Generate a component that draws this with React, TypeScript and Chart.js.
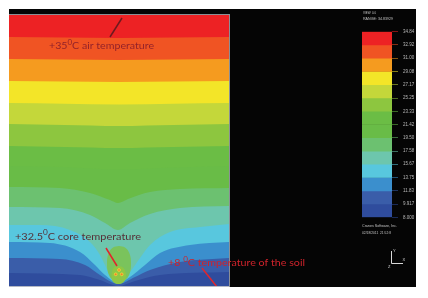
import React, { useEffect, useRef } from "react";
import { Chart, registerables } from "chart.js";
Chart.register(...registerables);

// Contour levels (°C) shown in the colour bar, top to bottom
const levels = [34.84, 32.92, 31.0, 29.08, 27.17, 25.25, 23.33, 21.42, 19.5, 17.58, 15.67, 13.75, 11.83, 9.917, 8.0];
const tickLabels = ["34.84", "32.92", "31.00", "29.08", "27.17", "25.25", "23.33", "21.42", "19.50", "17.58", "15.67", "13.75", "11.83", "9.917", "8.000"];
const bandColors = [
  "#ED2224", "#F05423", "#F59B1F", "#F3E528", "#C4D73A", "#8DC63F", "#6BBD45",
  "#69BC47", "#6CC170", "#6DC6AD", "#58C7DE", "#3B8FCD", "#3A5DA9", "#2F4C9D",
];

// Isolines: [x (cm, 0 = heat source axis), elevation above model bottom (cm)]
const iso3484 = [[-110, 273], [110, 273]];
const iso3292 = [[-110, 250], [-55, 249.5], [0, 249], [55, 249.5], [110, 250]];
const iso3100 = [[-110, 228], [-55, 227.5], [0, 227], [55, 227.5], [110, 228]];
const iso2908 = [[-110, 206], [-55, 205.5], [0, 205], [55, 205.5], [110, 206]];
const iso2717 = [[-110, 184], [-55, 183.3], [0, 182.5], [55, 183.3], [110, 184]];
const iso2525 = [[-110, 163], [-55, 162], [0, 161], [55, 162], [110, 163]];
const iso2333 = [[-110, 141], [-55, 140], [0, 139], [55, 140], [110, 141]];
const iso2142 = [[-110, 121], [-55, 120], [0, 117.5], [55, 119.5], [110, 121]];
const iso1950 = [[-110, 100], [-59, 99], [-29, 94], [-9, 87], [-1, 84], [9, 88], [31, 95], [61, 98], [110, 99]];
const iso1758 = [[-110, 80], [-59, 79], [-29, 72], [-14, 64], [-1, 57], [11, 64], [31, 73], [61, 79], [110, 81]];
const iso1567 = [[-110, 62], [-79, 62], [-49, 57], [-29, 45], [-19, 32], [-14, 22], [-9, 12], [-1, 5], [11, 15], [21, 29], [31, 42], [51, 55], [81, 60], [110, 63]];
const iso1375 = [[-110, 45], [-69, 44], [-39, 35], [-24, 22], [-14, 12], [-1, 4], [11, 10], [26, 22], [41, 34], [71, 42], [110, 45]];
const iso1183 = [[-110, 29], [-59, 28], [-34, 22], [-19, 12], [-1, 3], [16, 10], [31, 17], [61, 25], [110, 29]];
const iso992 = [[-110, 14], [-39, 12], [-19, 7], [-1, 1], [16, 6], [41, 12], [110, 15]];

// Warm core around the heat source
const coreOuter = [[0, 41], [6, 39.5], [10.5, 33.5], [12, 23.5], [10.5, 13], [6, 7], [0, 5.5], [-6, 7], [-10.5, 13], [-12, 23.5], [-10.5, 33.5], [-6, 39.5], [0, 41]];
const coreInner = [[-0.5, 21], [4, 19.5], [6.5, 15], [7, 11], [5.5, 6], [2.5, 3.5], [-0.5, 3], [-3.5, 3.5], [-6.5, 6], [-7.5, 11], [-7, 15], [-5, 19.5], [-0.5, 21]];
const coreNodes = [[0, 17], [-3.3, 12.7], [2.7, 12.7]];

// Callout leader lines
const leaderAir = [[-9, 250], [3, 269]];
const leaderCore = [[-13, 39], [-2, 21]];
const leaderSoil = [[83, 19], [98, 0]];

const isolines = [iso3484, iso3292, iso3100, iso2908, iso2717, iso2525, iso2333, iso2142, iso1950, iso1758, iso1567, iso1375, iso1183, iso992];

const toXY = (pts: number[][]) => pts.map(([x, y]) => ({ x, y }));

function darken(hex: string, f: number) {
  const n = parseInt(hex.slice(1), 16);
  const r = Math.round(((n >> 16) & 255) * f);
  const g = Math.round(((n >> 8) & 255) * f);
  const b = Math.round((n & 255) * f);
  return `rgb(${r},${g},${b})`;
}

function drawRich(ctx: CanvasRenderingContext2D, parts: [string, boolean][], x: number, y: number, size: number, color: string, targetWidth: number) {
  ctx.save();
  ctx.fillStyle = color;
  ctx.textBaseline = "alphabetic";
  ctx.textAlign = "left";
  const normal = `${size}px Lato`;
  const sup = `${size * 0.75}px Lato`;
  let w = 0;
  for (const [t, s] of parts) {
    ctx.font = s ? sup : normal;
    w += ctx.measureText(t).width;
  }
  ctx.translate(x, y);
  ctx.scale(targetWidth / w, 1);
  let cx = 0;
  for (const [t, s] of parts) {
    ctx.font = s ? sup : normal;
    ctx.fillText(t, cx, s ? -size * 0.42 : 0);
    cx += ctx.measureText(t).width;
  }
  ctx.restore();
}

const overlayPlugin = {
  id: "overlay",
  afterDatasetsDraw(chart: any) {
    const ctx: CanvasRenderingContext2D = chart.ctx;
    const a = chart.chartArea;
    ctx.save();
    // frame of the model
    ctx.strokeStyle = "#8c8f96";
    ctx.lineWidth = 1;
    ctx.beginPath();
    ctx.moveTo(a.left, a.top + 0.5);
    ctx.lineTo(a.right, a.top + 0.5);
    ctx.moveTo(a.right + 0.5, a.top);
    ctx.lineTo(a.right + 0.5, a.bottom);
    ctx.stroke();
    ctx.strokeStyle = "#b4b8c4";
    ctx.beginPath();
    ctx.moveTo(a.left, a.bottom - 0.5);
    ctx.lineTo(a.right, a.bottom - 0.5);
    ctx.stroke();

    // callout texts
    drawRich(ctx, [["+35", false], ["0", true], ["C air temperature", false]], a.left + 40, a.top + 35, 10, "#93222a", 105);
    drawRich(ctx, [["+32.5", false], ["0", true], ["C core temperature", false]], a.left + 6, a.top + 225.5, 10, "#553038", 126);
    drawRich(ctx, [["+8 ", false], ["0", true], ["C temperature of the soil", false]], a.left + 159, a.top + 252, 10, "#cf232b", 137);

    // header / footer of the colour bar panel
    ctx.fillStyle = "#c4c4c4";
    ctx.font = "4px 'Liberation Sans'";
    ctx.textBaseline = "alphabetic";
    ctx.fillText("VIEW: 0.0", 354, 4.8, 13);
    ctx.fillText("RANGE: 34.83929", 354, 11, 30);
    ctx.fillText("Cranes Software, Inc.", 353, 217.5, 35);
    ctx.fillText("02/18/2011  21:52:8", 353, 224.5, 29);

    // axis triad
    ctx.strokeStyle = "#d8d8d8";
    ctx.lineWidth = 1;
    ctx.beginPath();
    ctx.moveTo(382.5, 242);
    ctx.lineTo(382.5, 254.5);
    ctx.lineTo(394, 254.5);
    ctx.stroke();
    ctx.fillStyle = "#d8d8d8";
    ctx.font = "4px 'Liberation Sans'";
    ctx.fillText("Y", 384, 243);
    ctx.fillText("X", 393.5, 252);
    ctx.fillText("Z", 379, 258.5);
    ctx.restore();
  },
};

export default function App() {
  const mainRef = useRef<HTMLCanvasElement>(null);
  const legRef = useRef<HTMLCanvasElement>(null);

  useEffect(() => {
    const bandSets = isolines.map((pts, i) => ({
      data: toXY(pts),
      borderWidth: 0,
      pointRadius: 0,
      fill: "start",
      backgroundColor: bandColors[i],
      cubicInterpolationMode: "monotone",
      order: 100 - i,
    }));
    const main = new Chart(mainRef.current!, {
      type: "line",
      data: {
        datasets: [
          ...bandSets,
          { data: toXY(coreOuter), borderWidth: 0, pointRadius: 0, fill: "shape", backgroundColor: "#7AC35C", tension: 0.4, order: 6 },
          { data: toXY(coreInner), borderWidth: 0, pointRadius: 0, fill: "shape", backgroundColor: "#8EC744", tension: 0.4, order: 5 },
          { data: toXY(coreNodes), showLine: false, pointRadius: 1.4, pointBackgroundColor: "#F0802A", pointBorderColor: "#F2D83A", pointBorderWidth: 0.8, order: 2 },
          { data: toXY(leaderAir), borderColor: "#6e1a1e", borderWidth: 1.5, pointRadius: 0, fill: false, order: 1 },
          { data: toXY(leaderCore), borderColor: "#e4222a", borderWidth: 1.5, pointRadius: 0, fill: false, order: 1 },
          { data: toXY(leaderSoil), borderColor: "#e0262c", borderWidth: 1.5, pointRadius: 0, fill: false, order: 1 },
        ] as any,
      },
      options: {
        responsive: false,
        animation: false,
        devicePixelRatio: 1,
        events: [],
        layout: { autoPadding: false, padding: { left: 0, top: 5, right: 187, bottom: 0 } },
        scales: {
          x: { type: "linear", min: -110, max: 110, display: false },
          y: { type: "linear", min: 0, max: 273, display: false },
        },
        plugins: { legend: { display: false }, tooltip: { enabled: false } },
      } as any,
      plugins: [overlayPlugin],
    });

    const leg = new Chart(legRef.current!, {
      type: "bar",
      data: {
        labels: [""],
        datasets: bandColors.map((c, i) => ({
          data: [[levels[i + 1], levels[i]]],
          backgroundColor: c,
          borderWidth: 0,
          grouped: false,
          barPercentage: 1,
          categoryPercentage: 1,
        })) as any,
      },
      options: {
        responsive: false,
        animation: false,
        devicePixelRatio: 1,
        events: [],
        layout: { autoPadding: false, padding: { left: 0, top: 6.5, right: 0, bottom: 6.5 } },
        scales: {
          x: { display: false },
          y: {
            position: "right",
            min: 8,
            max: 34.84,
            afterBuildTicks: (scale: any) => {
              scale.ticks = [...levels].reverse().map((v) => ({ value: v }));
            },
            afterFit: (scale: any) => {
              scale.width = 26;
            },
            ticks: {
              autoSkip: false,
              padding: 5,
              color: "#b8b8b8",
              font: { family: "'Liberation Sans'", size: 4.5 },
              callback: (v: any) => tickLabels[levels.indexOf(v)],
            },
            grid: {
              drawOnChartArea: false,
              drawTicks: true,
              tickLength: 6,
              lineWidth: 1,
              color: (ctx: any) => {
                const j = levels.indexOf(ctx.tick ? ctx.tick.value : 8);
                return darken(bandColors[Math.min(Math.max(j, 0), bandColors.length - 1)], 0.55);
              },
            },
            border: { display: false },
          },
        },
        plugins: { legend: { display: false }, tooltip: { enabled: false } },
      } as any,
    });

    return () => {
      main.destroy();
      leg.destroy();
    };
  }, []);

  return (
    <div style={{ position: "relative", width: 420, height: 290 }}>
      <div style={{ position: "absolute", left: 1, top: 1, width: 407, height: 278, background: "#050505" }} />
      <canvas ref={mainRef} width={407} height={278} style={{ position: "absolute", left: 1, top: 1, width: 407, height: 278 }} />
      <canvas ref={legRef} width={56} height={201} style={{ position: "absolute", left: 354, top: 16, width: 56, height: 201 }} />
    </div>
  );
}
